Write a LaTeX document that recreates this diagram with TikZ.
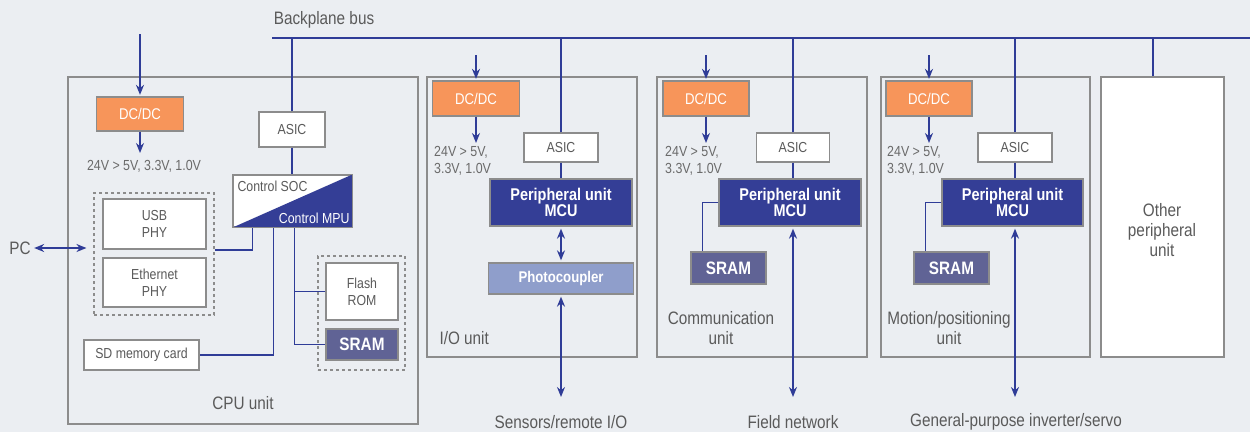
\documentclass[tikz,border=0pt]{standalone}
\usepackage{fontspec}
\setmainfont[FakeStretch=0.85]{Liberation Sans}
\definecolor{PLCbg}{HTML}{EBEEF2}
\definecolor{PLCnavy}{HTML}{343E96}
\definecolor{PLCline}{HTML}{2F3C97}
\definecolor{PLCorange}{HTML}{F7955A}
\definecolor{PLCslate}{HTML}{606395}
\definecolor{PLCsky}{HTML}{8F9ECB}
\definecolor{PLCgray}{HTML}{8C8C8C}
\definecolor{PLCtext}{HTML}{5A5A5A}
\definecolor{PLCvolt}{HTML}{6A6A6A}
\usetikzlibrary{arrows.meta, positioning, calc}

\begin{document}
\begin{tikzpicture}[x=1pt, y=-1pt,
   unitbox/.style={draw=PLCgray, line width=1.3pt},
   dashbox/.style={draw=PLCgray, line width=1.1pt, dash pattern=on 3pt off 3pt},
   chip/.style={draw=PLCgray, line width=1.3pt, fill=white, text=PLCtext,
      align=center, font=\fontsize{14.5}{17}\selectfont},
   dcdc/.style={chip, fill=PLCorange, text=white, font=\fontsize{15.5}{17}\selectfont},
   mcu/.style={chip, fill=PLCnavy, text=white, font=\bfseries\fontsize{17}{16.7}\selectfont},
   sramchip/.style={chip, fill=PLCslate, text=white, font=\bfseries\fontsize{18}{18}\selectfont},
   lbl/.style={text=PLCtext, align=center, font=\fontsize{18}{20}\selectfont},
   volt/.style={text=PLCvolt, align=left, inner sep=0pt, font=\fontsize{14.6}{17}\selectfont},
   bus/.style={PLCline, line width=1.6pt},
   feed/.style={bus, -{Stealth[length=10pt,width=8pt]}, shorten >=1.5pt},
   duplex/.style={bus, {Stealth[length=10pt,width=8pt]}-{Stealth[length=10pt,width=8pt]}}]
   % Background
   \useasboundingbox (0,0) rectangle (1250,432);
   \fill[PLCbg] (0,0) rectangle (1250,432);
   % Backplane bus
   \coordinate (busL) at (272,38);
   \coordinate (busR) at (1250,38);
   \draw[bus] (busL) -- (busR);
   \node[lbl] (buslbl) at (324,20) {Backplane bus};
   % Unit frames
   \node[unitbox, minimum width=350, minimum height=347] (cpu) at (243,250.5) {};
   \node[unitbox, minimum width=210, minimum height=280] (io) at (532,217) {};
   \node[unitbox, minimum width=210, minimum height=280] (comm) at (762,217) {};
   \node[unitbox, minimum width=209, minimum height=280] (motion) at (985.5,217) {};
   \node[unitbox, fill=white, minimum width=123, minimum height=280] (other) at (1162.5,217) {};
   \node[lbl] (otherlbl) at (1162,230) {Other\\peripheral\\unit};
   \draw[bus] ([xshift=-9.5pt]other.north) -- ([xshift=-9.5pt]other.north |- busL);

   % CPU unit
   \coordinate (cpuin) at (140,34);
   \coordinate (cpuout) at (140,153);
   \node[dcdc, minimum width=87, minimum height=34] (cpudc) at (140,114) {DC/DC};
   \draw[feed] (cpuin) -- (cpuin |- cpudc.north);
   \draw[feed, shorten >=0pt] (cpudc.south) -- (cpuout);
   \node[volt] (cpuvolt) at (144,166) {24V > 5V, 3.3V, 1.0V};
   \node[chip, minimum width=66, minimum height=35] (cpuasic) at (292,129.5) {ASIC};
   \draw[bus] (cpuasic.north) -- (cpuasic.north |- busL);
   \node[chip, minimum width=119, minimum height=52] (soc) at (292.5,201) {};
   \fill[PLCnavy] (soc.south west) -- (soc.north east) -- (soc.south east) -- cycle;
   \draw[draw=PLCgray, line width=1.3pt] (soc.south west) rectangle (soc.north east);
   \draw[bus] (cpuasic.south) -- (cpuasic.south |- soc.north);
   \node[text=PLCtext, anchor=base west, inner sep=0pt, font=\fontsize{14.5}{17}\selectfont]
      (socup) at ([xshift=5pt,yshift=-17pt]soc.north west) {Control SOC};
   \node[text=white, anchor=base east, inner sep=0pt, font=\fontsize{14.5}{17}\selectfont]
      (socdn) at ([xshift=-3pt,yshift=4pt]soc.south east) {Control MPU};
   \coordinate (socphy) at ([xshift=20pt]soc.south west);
   \coordinate (socsd) at ([xshift=41pt]soc.south west);
   \coordinate (socmem) at ([xshift=62pt]soc.south west);
   % PHY group
   \node[dashbox, minimum width=120, minimum height=122] (phy) at (154,254) {};
   \node[chip, minimum width=103, minimum height=50] (usb) at (154.5,224) {USB\\PHY};
   \node[chip, minimum width=103, minimum height=49] (eth) at (154.5,282.5) {Ethernet\\PHY};
   \node[lbl] (pc) at (20,248) {PC};
   \draw[duplex, shorten >=7pt] (pc.east) -- (pc.east -| phy.west);
   \draw[bus] ([yshift=4pt]phy.east) -| (socphy);
   % SD card
   \node[chip, minimum width=115, minimum height=30] (sd) at (141.5,355) {SD memory card};
   \draw[bus] (socsd) |- (sd.east);
   % Memory group
   \node[dashbox, minimum width=87, minimum height=114] (mem) at (361.5,313) {};
   \node[chip, minimum width=72, minimum height=57] (flash) at (362,291.5) {Flash\\ROM};
   \node[sramchip, minimum width=72, minimum height=31] (cpusram) at (362,344.5) {SRAM};
   \draw[bus] (socmem) |- (cpusram.west);
   \draw[bus] (flash.west) -- (flash.west -| socmem);
   \node[lbl] (cpulbl) at (243,403) {CPU unit};

   % I/O unit
   \coordinate (ioin) at (476,55);
   \coordinate (ioout) at (476,143);
   \node[dcdc, minimum width=87, minimum height=35] (iodc) at (476,98.5) {DC/DC};
   \draw[feed] (ioin) -- (ioin |- iodc.north);
   \draw[feed, shorten >=0pt] (iodc.south) -- (ioout);
   \node[volt, anchor=north west] (iovolt) at (434,146) {24V > 5V,\\3.3V, 1.0V};
   \node[chip, minimum width=74, minimum height=29] (ioasic) at (561,147.5) {ASIC};
   \draw[bus] (ioasic.north) -- (ioasic.north |- busL);
   \node[mcu, minimum width=142, minimum height=47] (iomcu) at (561,202.5) {Peripheral unit\\MCU};
   \draw[bus] (ioasic.south) -- (iomcu.north);
   \node[chip, fill=PLCsky, text=white, font=\bfseries\fontsize{15.5}{17}\selectfont,
      minimum width=145, minimum height=31] (photo) at (561,278.5) {Photocoupler};
   \draw[duplex, shorten <=2pt, shorten >=2pt] (iomcu.south) -- (photo.north);
   \coordinate (ioext) at (561,397);
   \draw[duplex, shorten <=2pt] (photo.south) -- (ioext);
   \node[lbl, anchor=west] (iolbl) at (436,338) {I/O unit};
   \node[lbl] (sensors) at (561,422) {Sensors/remote I/O};

   % Communication unit
   \coordinate (cmin) at (706,55);
   \coordinate (cmout) at (706,143);
   \node[dcdc, minimum width=86, minimum height=35] (cmdc) at (706,98.5) {DC/DC};
   \draw[feed] (cmin) -- (cmin |- cmdc.north);
   \draw[feed, shorten >=0pt] (cmdc.south) -- (cmout);
   \node[volt, anchor=north west] (cmvolt) at (665,146) {24V > 5V,\\3.3V, 1.0V};
   \node[chip, minimum width=73, minimum height=29] (cmasic) at (793,147.5) {ASIC};
   \draw[bus] (cmasic.north) -- (cmasic.north |- busL);
   \node[mcu, minimum width=142, minimum height=47] (cmmcu) at (790,202.5) {Peripheral unit\\MCU};
   \draw[bus] (cmasic.south) -- (cmasic.south |- cmmcu.north);
   \node[sramchip, minimum width=75, minimum height=32] (cmsram) at (728.5,268) {SRAM};
   \draw[bus] (cmmcu.west) -| ([xshift=12pt]cmsram.north west);
   \coordinate (cmext) at (793,397);
   \draw[duplex, shorten >=2pt] (cmext) -- (cmext |- cmmcu.south);
   \node[lbl] (cmlbl) at (721,328) {Communication\\unit};
   \node[lbl] (field) at (793,422) {Field network};

   % Motion/positioning unit
   \coordinate (mtin) at (929,55);
   \coordinate (mtout) at (929,143);
   \node[dcdc, minimum width=86, minimum height=35] (mtdc) at (929,98.5) {DC/DC};
   \draw[feed] (mtin) -- (mtin |- mtdc.north);
   \draw[feed, shorten >=0pt] (mtdc.south) -- (mtout);
   \node[volt, anchor=north west] (mtvolt) at (887,146) {24V > 5V,\\3.3V, 1.0V};
   \node[chip, minimum width=74, minimum height=29] (mtasic) at (1015,147.5) {ASIC};
   \draw[bus] (mtasic.north) -- (mtasic.north |- busL);
   \node[mcu, minimum width=141, minimum height=47] (mtmcu) at (1012.5,202.5) {Peripheral unit\\MCU};
   \draw[bus] (mtasic.south) -- (mtasic.south |- mtmcu.north);
   \node[sramchip, minimum width=75, minimum height=32] (mtsram) at (951.5,268) {SRAM};
   \draw[bus] (mtmcu.west) -| ([xshift=12pt]mtsram.north west);
   \coordinate (mtext) at (1015,397);
   \draw[duplex, shorten >=2pt] (mtext) -- (mtext |- mtmcu.south);
   \node[lbl] (mtlbl) at (949,328) {Motion/positioning\\unit};
   \node[lbl] (servo) at (1016,422) {General-purpose inverter/servo};
\end{tikzpicture}
\end{document}
